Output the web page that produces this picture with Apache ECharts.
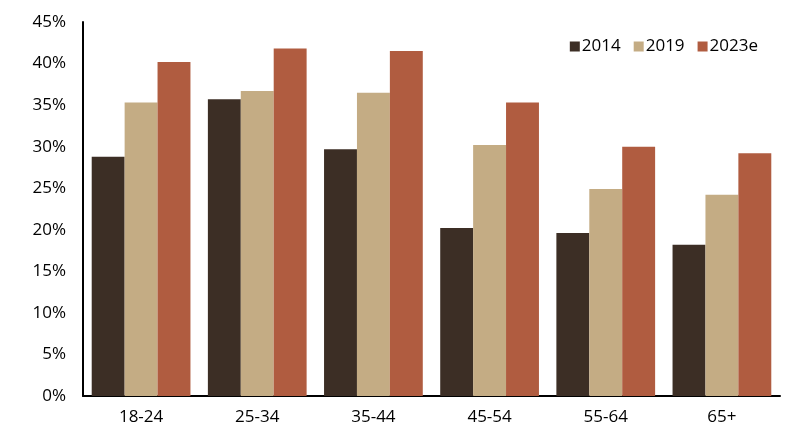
<!DOCTYPE html>
<html><head><meta charset="utf-8">
<script src="https://cdn.jsdelivr.net/npm/echarts@6/dist/echarts.min.js"></script>
<style>html,body{margin:0;padding:0;background:#fff}#c{width:805px;height:430px}</style>
</head><body><div id="c"></div>
<script>
const categories = ['18-24','25-34','35-44','45-54','55-64','65+'];
const seriesNames = ['2014','2019','2023e'];
const v2014 = [28.8, 35.7, 29.7, 20.2, 19.6, 18.2];
const v2019 = [35.3, 36.7, 36.5, 30.2, 24.9, 24.2];
const v2023 = [40.2, 41.8, 41.5, 35.3, 30.0, 29.2];
const colors = ['#3c2e25', '#c4ac84', '#b05c40'];
const font = 'Open Sans';
const chart = echarts.init(document.getElementById('c'));
chart.setOption({
  animation:false,
  textStyle:{fontFamily:font},
  grid:{left:83,right:25,top:22,bottom:34},
  legend:{right:42,top:33,itemWidth:10,itemHeight:10,itemGap:13,icon:'rect',
    textStyle:{fontSize:17,color:'#000',fontFamily:font,padding:[0,0,0,-3]},
    data:seriesNames},
  xAxis:{type:'category',data:categories,
    axisLine:{lineStyle:{color:'#000',width:2}},axisTick:{show:false},
    axisLabel:{fontSize:17,color:'#000',margin:13,fontFamily:font}},
  yAxis:{type:'value',min:0,max:45,interval:5,
    axisLine:{show:true,lineStyle:{color:'#000',width:2}},axisTick:{show:false},
    splitLine:{show:false},
    axisLabel:{fontSize:17,color:'#000',margin:17,fontFamily:font,formatter:v=>v+'%'}},
  series:[
    {name:seriesNames[0],type:'bar',data:v2014,itemStyle:{color:colors[0]},barGap:'0%',barCategoryGap:'15%'},
    {name:seriesNames[1],type:'bar',data:v2019,itemStyle:{color:colors[1]},barGap:'0%',barCategoryGap:'15%'},
    {name:seriesNames[2],type:'bar',data:v2023,itemStyle:{color:colors[2]},barGap:'0%',barCategoryGap:'15%'}
  ]
});
</script></body></html>
